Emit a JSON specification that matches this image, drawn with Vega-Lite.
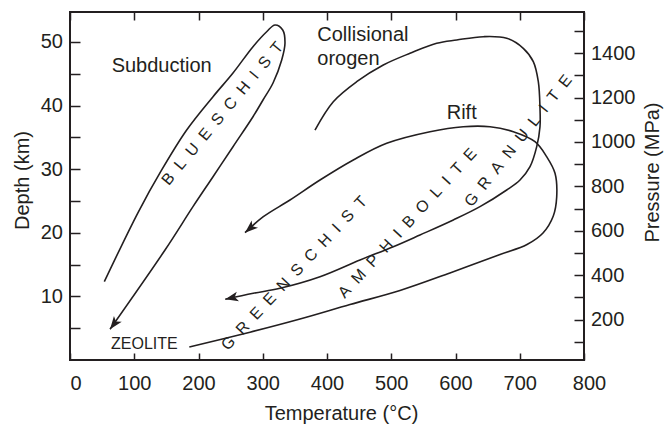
{
  "$schema": "https://vega.github.io/schema/vega-lite/v6.json",
  "width": 514,
  "height": 348,
  "autosize": {"type": "none"},
  "padding": {"left": 70, "top": 12, "right": 81, "bottom": 64},
  "background": "white",
  "datasets": {
    "curves": [
      {"curve": "Subduction", "i": 1, "T": 53.4, "D": 12.31},
      {"curve": "Subduction", "i": 2, "T": 106.3, "D": 23.26},
      {"curve": "Subduction", "i": 3, "T": 142.7, "D": 29.87},
      {"curve": "Subduction", "i": 4, "T": 181.6, "D": 36.15},
      {"curve": "Subduction", "i": 5, "T": 222.6, "D": 41.39},
      {"curve": "Subduction", "i": 6, "T": 253.7, "D": 45.11},
      {"curve": "Subduction", "i": 7, "T": 284.8, "D": 49.25},
      {"curve": "Subduction", "i": 8, "T": 306.1, "D": 51.6},
      {"curve": "Subduction", "i": 9, "T": 319.1, "D": 52.66},
      {"curve": "Subduction", "i": 10, "T": 331.1, "D": 51.87},
      {"curve": "Subduction", "i": 11, "T": 334.6, "D": 49.78},
      {"curve": "Subduction", "i": 12, "T": 329.5, "D": 47.16},
      {"curve": "Subduction", "i": 13, "T": 316.0, "D": 43.54},
      {"curve": "Subduction", "i": 14, "T": 300.4, "D": 40.87},
      {"curve": "Subduction", "i": 15, "T": 284.8, "D": 38.24},
      {"curve": "Subduction", "i": 16, "T": 253.7, "D": 33.53},
      {"curve": "Subduction", "i": 17, "T": 222.6, "D": 28.81},
      {"curve": "Subduction", "i": 18, "T": 191.4, "D": 24.1},
      {"curve": "Subduction", "i": 19, "T": 147.9, "D": 17.29},
      {"curve": "Subduction", "i": 20, "T": 62.3, "D": 4.83},
      {"curve": "Collisional orogen", "i": 1, "T": 381.3, "D": 36.14},
      {"curve": "Collisional orogen", "i": 2, "T": 409.8, "D": 40.6},
      {"curve": "Collisional orogen", "i": 3, "T": 446.2, "D": 43.74},
      {"curve": "Collisional orogen", "i": 4, "T": 487.6, "D": 46.37},
      {"curve": "Collisional orogen", "i": 5, "T": 529.2, "D": 48.21},
      {"curve": "Collisional orogen", "i": 6, "T": 570.7, "D": 49.78},
      {"curve": "Collisional orogen", "i": 7, "T": 601.9, "D": 50.3},
      {"curve": "Collisional orogen", "i": 8, "T": 643.3, "D": 50.82},
      {"curve": "Collisional orogen", "i": 9, "T": 679.7, "D": 50.57},
      {"curve": "Collisional orogen", "i": 10, "T": 705.5, "D": 48.99},
      {"curve": "Collisional orogen", "i": 11, "T": 721.1, "D": 46.89},
      {"curve": "Collisional orogen", "i": 12, "T": 728.9, "D": 43.74},
      {"curve": "Collisional orogen", "i": 13, "T": 731.5, "D": 39.56},
      {"curve": "Collisional orogen", "i": 14, "T": 731.5, "D": 36.67},
      {"curve": "Collisional orogen", "i": 15, "T": 726.4, "D": 33.53},
      {"curve": "Collisional orogen", "i": 16, "T": 716.0, "D": 30.38},
      {"curve": "Collisional orogen", "i": 17, "T": 700.4, "D": 28.29},
      {"curve": "Collisional orogen", "i": 18, "T": 679.7, "D": 26.72},
      {"curve": "Collisional orogen", "i": 19, "T": 638.1, "D": 24.1},
      {"curve": "Collisional orogen", "i": 20, "T": 596.6, "D": 22.01},
      {"curve": "Collisional orogen", "i": 21, "T": 544.7, "D": 19.65},
      {"curve": "Collisional orogen", "i": 22, "T": 503.2, "D": 17.81},
      {"curve": "Collisional orogen", "i": 23, "T": 451.4, "D": 15.72},
      {"curve": "Collisional orogen", "i": 24, "T": 389.1, "D": 13.09},
      {"curve": "Collisional orogen", "i": 25, "T": 326.8, "D": 11.27},
      {"curve": "Collisional orogen", "i": 26, "T": 285.3, "D": 10.48},
      {"curve": "Collisional orogen", "i": 27, "T": 241.6, "D": 9.54},
      {"curve": "Rift", "i": 1, "T": 185.7, "D": 2.04},
      {"curve": "Rift", "i": 2, "T": 280.2, "D": 4.37},
      {"curve": "Rift", "i": 3, "T": 358.0, "D": 6.44},
      {"curve": "Rift", "i": 4, "T": 435.8, "D": 8.72},
      {"curve": "Rift", "i": 5, "T": 513.6, "D": 10.92},
      {"curve": "Rift", "i": 6, "T": 591.4, "D": 13.68},
      {"curve": "Rift", "i": 7, "T": 669.3, "D": 16.58},
      {"curve": "Rift", "i": 8, "T": 711.3, "D": 18.15},
      {"curve": "Rift", "i": 9, "T": 736.2, "D": 19.96},
      {"curve": "Rift", "i": 10, "T": 752.2, "D": 22.63},
      {"curve": "Rift", "i": 11, "T": 757.5, "D": 25.62},
      {"curve": "Rift", "i": 12, "T": 754.9, "D": 29.35},
      {"curve": "Rift", "i": 13, "T": 741.9, "D": 31.96},
      {"curve": "Rift", "i": 14, "T": 723.7, "D": 34.31},
      {"curve": "Rift", "i": 15, "T": 690.0, "D": 35.88},
      {"curve": "Rift", "i": 16, "T": 653.7, "D": 36.67},
      {"curve": "Rift", "i": 17, "T": 612.1, "D": 36.67},
      {"curve": "Rift", "i": 18, "T": 560.3, "D": 35.88},
      {"curve": "Rift", "i": 19, "T": 492.9, "D": 34.06},
      {"curve": "Rift", "i": 20, "T": 440.9, "D": 31.44},
      {"curve": "Rift", "i": 21, "T": 389.1, "D": 28.29},
      {"curve": "Rift", "i": 22, "T": 342.4, "D": 25.15},
      {"curve": "Rift", "i": 23, "T": 300.9, "D": 22.52},
      {"curve": "Rift", "i": 24, "T": 272.4, "D": 20.01}
    ],
    "labels": [
      {"key": "blueschist", "label": "B\u00a0\u00a0L\u00a0\u00a0U\u00a0\u00a0E\u00a0\u00a0S\u00a0\u00a0C\u00a0\u00a0H\u00a0\u00a0I\u00a0\u00a0S\u00a0\u00a0T", "T": 237.4, "D": 38.75},
      {"key": "greenschist", "label": "G\u00a0\u00a0R\u00a0\u00a0E\u00a0\u00a0E\u00a0\u00a0N\u00a0\u00a0S\u00a0\u00a0C\u00a0\u00a0H\u00a0\u00a0I\u00a0\u00a0S\u00a0\u00a0T", "T": 349.0, "D": 13.63},
      {"key": "amphibolite", "label": "A\u00a0\u00a0M\u00a0\u00a0P\u00a0\u00a0H\u00a0\u00a0I\u00a0\u00a0B\u00a0\u00a0O\u00a0\u00a0L\u00a0\u00a0I\u00a0\u00a0T\u00a0\u00a0E", "T": 525.3, "D": 21.49},
      {"key": "granulite", "label": "G\u00a0\u00a0R\u00a0\u00a0A\u00a0\u00a0N\u00a0\u00a0U\u00a0\u00a0L\u00a0\u00a0I\u00a0\u00a0T\u00a0\u00a0E", "T": 697.8, "D": 34.45},
      {"key": "zeolite", "label": "ZEOLITE", "T": 63.8, "D": 1.68},
      {"key": "name", "label": "Subduction", "T": 64.8, "D": 45.32},
      {"key": "name", "label": "Collisional", "T": 384.9, "D": 50.19},
      {"key": "name", "label": "orogen", "T": 384.9, "D": 46.37},
      {"key": "name", "label": "Rift", "T": 586.3, "D": 37.83}
    ]
  },
  "layer": [
    {
      "encoding": {
        "x": {
          "field": "T", "type": "quantitative",
          "scale": {"domain": [0, 800], "nice": false, "zero": false},
          "axis": {
            "orient": "bottom",
            "values": [0, 100, 200, 300, 400, 500, 600, 700, 800],
            "format": "d",
            "tickSize": -7,
            "labelPadding": 20,
            "labelAlign": {"condition": {"test": "datum.value === 0", "value": "left"}, "value": "center"},
            "labelOffset": {"condition": {"test": "datum.value === 800", "value": 5}, "value": 0},
            "title": "Temperature (°C)",
            "titlePadding": 10,
            "titleX": 271
          }
        },
        "y": {
          "field": "D", "type": "quantitative",
          "scale": {"domain": [0, 54.7], "nice": false, "zero": false},
          "axis": {
            "orient": "left",
            "values": [5, 10, 15, 20, 25, 30, 35, 40, 45, 50],
            "labelExpr": "datum.value % 10 === 0 ? datum.label : ''",
            "format": "d",
            "tickSize": -10,
            "labelPadding": 17.5,
            "title": "Depth (km)",
            "titlePadding": 8,
            "titleY": 168
          }
        }
      },
      "layer": [
        {
          "data": {"name": "curves"},
          "mark": {"type": "line", "interpolate": "catmull-rom", "stroke": "#231f20", "strokeWidth": 1.6},
          "encoding": {
            "detail": {"field": "curve", "type": "nominal"},
            "order": {"field": "i", "type": "quantitative"}
          }
        },
        {
          "data": {"name": "curves"},
          "transform": [
            {"filter": "datum.curve === 'Subduction'"},
            {"joinaggregate": [{"op": "max", "field": "i", "as": "last"}]},
            {"filter": "datum.i === datum.last"}
          ],
          "mark": {"type": "point", "shape": "M0,0L0.75,2L0,1.5L-0.75,2Z", "size": 169, "filled": true, "fill": "#231f20", "strokeWidth": 0, "opacity": 1, "angle": 217}
        },
        {
          "data": {"name": "curves"},
          "transform": [
            {"filter": "datum.curve === 'Collisional orogen'"},
            {"joinaggregate": [{"op": "max", "field": "i", "as": "last"}]},
            {"filter": "datum.i === datum.last"}
          ],
          "mark": {"type": "point", "shape": "M0,0L0.75,2L0,1.5L-0.75,2Z", "size": 169, "filled": true, "fill": "#231f20", "strokeWidth": 0, "opacity": 1, "angle": 257}
        },
        {
          "data": {"name": "curves"},
          "transform": [
            {"filter": "datum.curve === 'Rift'"},
            {"joinaggregate": [{"op": "max", "field": "i", "as": "last"}]},
            {"filter": "datum.i === datum.last"}
          ],
          "mark": {"type": "point", "shape": "M0,0L0.75,2L0,1.5L-0.75,2Z", "size": 169, "filled": true, "fill": "#231f20", "strokeWidth": 0, "opacity": 1, "angle": 229}
        },
        {
          "data": {"name": "labels"},
          "transform": [{"filter": "datum.key === 'blueschist'"}],
          "mark": {"type": "text", "font": "Liberation Sans", "fontSize": 16, "fill": "#231f20", "align": "center", "baseline": "middle", "angle": -50.4},
          "encoding": {"text": {"field": "label"}}
        },
        {
          "data": {"name": "labels"},
          "transform": [{"filter": "datum.key === 'greenschist'"}],
          "mark": {"type": "text", "font": "Liberation Sans", "fontSize": 16, "fill": "#231f20", "align": "center", "baseline": "middle", "angle": -46.75},
          "encoding": {"text": {"field": "label"}}
        },
        {
          "data": {"name": "labels"},
          "transform": [{"filter": "datum.key === 'amphibolite'"}],
          "mark": {"type": "text", "font": "Liberation Sans", "fontSize": 16, "fill": "#231f20", "align": "center", "baseline": "middle", "angle": -47.5},
          "encoding": {"text": {"field": "label"}}
        },
        {
          "data": {"name": "labels"},
          "transform": [{"filter": "datum.key === 'granulite'"}],
          "mark": {"type": "text", "font": "Liberation Sans", "fontSize": 16, "fill": "#231f20", "align": "center", "baseline": "middle", "angle": -51.7},
          "encoding": {"text": {"field": "label"}}
        },
        {
          "data": {"name": "labels"},
          "transform": [{"filter": "datum.key === 'zeolite'"}],
          "mark": {"type": "text", "font": "Liberation Sans", "fontSize": 16, "fill": "#231f20", "align": "left", "baseline": "alphabetic"},
          "encoding": {"text": {"field": "label"}}
        },
        {
          "data": {"name": "labels"},
          "transform": [{"filter": "datum.key === 'name'"}],
          "mark": {"type": "text", "font": "Liberation Sans", "fontSize": 20, "fill": "#231f20", "align": "left", "baseline": "alphabetic"},
          "encoding": {"text": {"field": "label"}}
        }
      ]
    },
    {
      "data": {"values": [{"T": 0, "P": 100}]},
      "mark": {"type": "point", "opacity": 0},
      "encoding": {
        "x": {
          "field": "T", "type": "quantitative",
          "scale": {"domain": [0, 800], "nice": false, "zero": false},
          "axis": {
            "orient": "top",
            "values": [0, 100, 200, 300, 400, 500, 600, 700, 800],
            "labels": false,
            "tickSize": -8,
            "title": null
          }
        },
        "y": {
          "field": "P", "type": "quantitative",
          "scale": {"domain": [18, 1585], "nice": false, "zero": false},
          "axis": {
            "orient": "right",
            "values": [100, 200, 300, 400, 500, 600, 700, 800, 900, 1000, 1100, 1200, 1300, 1400, 1500],
            "labelExpr": "datum.value % 200 === 0 ? datum.label : ''",
            "format": "d",
            "tickSize": -10,
            "labelPadding": 16.5,
            "title": "Pressure (MPa)",
            "titleAngle": 270,
            "titlePadding": 28,
            "titleY": 160
          }
        }
      }
    }
  ],
  "resolve": {"scale": {"x": "independent", "y": "independent"}},
  "config": {
    "view": {"stroke": "#231f20", "strokeWidth": 2},
    "axis": {
      "domain": false,
      "grid": false,
      "labelFont": "Liberation Sans",
      "labelFontSize": 20,
      "labelColor": "#231f20",
      "labelFlush": false,
      "labelOverlap": false,
      "titleFont": "Liberation Sans",
      "titleFontSize": 20,
      "titleFontWeight": "normal",
      "titleColor": "#231f20",
      "tickColor": "#231f20",
      "tickWidth": 1.5
    }
  }
}
